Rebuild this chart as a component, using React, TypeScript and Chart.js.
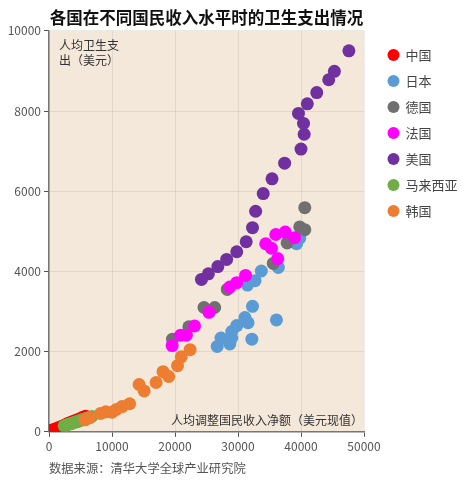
import React, { useEffect, useRef } from "react";
import { Chart, registerables } from "chart.js";

Chart.register(...registerables);

const FONT = '"Noto Sans CJK SC", "Noto Sans", sans-serif';
const PLOT_BG = "#f4e8da";

const seriesNames = ["中国", "日本", "德国", "法国", "美国", "马来西亚", "韩国"];
const seriesColors = ["#ff0000", "#5b9bd5", "#707070", "#ff00ff", "#7030a0", "#70ad47", "#ed7d31"];

const xTicks = [0, 10000, 20000, 30000, 40000, 50000];
const yTicks = [0, 2000, 4000, 6000, 8000, 10000];

const chinaX = [200, 400, 600, 800, 1000, 1300, 1500, 1800, 2100, 2500, 2900, 3300, 3800, 4300, 4800, 5300, 5800];
const chinaY = [20, 30, 45, 55, 70, 85, 100, 120, 140, 170, 200, 225, 260, 290, 320, 355, 390];

const japanX = [26700, 27300, 28700, 29000, 29000, 29800, 31100, 31600, 32200, 32300, 36100, 31500, 32700, 33700, 36400, 39300, 39800];
const japanY = [2130, 2340, 2190, 2500, 2340, 2650, 2850, 2720, 2310, 3130, 2790, 3660, 3770, 4010, 4100, 4690, 4830];

const germanyX = [19600, 22200, 24600, 26300, 28300, 35600, 37800, 39800, 40600, 40600];
const germanyY = [2310, 2620, 3100, 3100, 3550, 4200, 4710, 5110, 5040, 5590];

const franceX = [19550, 20900, 21800, 23100, 25400, 28700, 29800, 31200, 34400, 35300, 36000, 37500, 39000, 36300];
const franceY = [2150, 2410, 2410, 2640, 2980, 3610, 3720, 3900, 4690, 4580, 4920, 4980, 4840, 4320];

const usX = [24200, 25300, 26800, 28200, 29800, 31300, 32300, 32800, 34000, 35400, 37400, 40000, 40500, 40400, 39600, 41000, 42500, 44400, 45300, 47600];
const usY = [3800, 3940, 4120, 4300, 4490, 4740, 5090, 5500, 5940, 6310, 6700, 7050, 7420, 7690, 7940, 8180, 8460, 8780, 8990, 9500];

const malaysiaX = [2400, 2800, 3100, 3400, 3700, 4000, 4300, 4600, 4900, 5200, 5600, 6000, 6400, 6800];
const malaysiaY = [150, 170, 190, 200, 215, 235, 250, 260, 280, 300, 320, 340, 360, 385];

const koreaX = [5700, 6400, 8200, 9000, 10000, 10700, 11600, 12800, 14300, 15100, 17000, 18100, 19000, 20400, 21000, 22400];
const koreaY = [300, 350, 460, 500, 490, 560, 630, 700, 1180, 1020, 1230, 1500, 1380, 1650, 1870, 2050];

const titleText = "各国在不同国民收入水平时的卫生支出情况";
const yTitleLines = ["人均卫生支", "出（美元）"];
const xTitleText = "人均调整国民收入净额（美元现值）";
const sourceText = "数据来源：清华大学全球产业研究院";

export default function App() {
  const ref = useRef<HTMLCanvasElement>(null);

  useEffect(() => {
    if (!ref.current) return;
    const xs = [chinaX, japanX, germanyX, franceX, usX, malaysiaX, koreaX];
    const ys = [chinaY, japanY, germanyY, franceY, usY, malaysiaY, koreaY];
    const datasets = seriesNames.map((name, i) => ({
      label: name,
      data: xs[i].map((x, j) => ({ x, y: ys[i][j] })),
      backgroundColor: seriesColors[i],
      borderColor: seriesColors[i],
      borderWidth: 0,
      pointRadius: 6.5,
      pointHoverRadius: 6.5,
      order: seriesNames.length - i,
    }));

    const innerText = {
      id: "innerText",
      beforeDraw(chart: any) {
        const { ctx, chartArea: a } = chart;
        ctx.save();
        ctx.fillStyle = PLOT_BG;
        ctx.fillRect(a.left, a.top, a.right - a.left, a.bottom - a.top);
        ctx.restore();
      },
      afterDraw(chart: any) {
        const { ctx, chartArea: a } = chart;
        ctx.save();
        ctx.fillStyle = "#333";
        ctx.font = `12px ${FONT}`;
        ctx.textBaseline = "middle";
        ctx.textAlign = "left";
        yTitleLines.forEach((t, i) => ctx.fillText(t, a.left + 10, a.top + 15 + i * 14.5));
        ctx.textAlign = "right";
        ctx.fillText(xTitleText, a.right - 1, a.bottom - 11.5);
        ctx.restore();
      },
    };

    const chart = new Chart(ref.current, {
      type: "scatter",
      data: { datasets },
      plugins: [innerText],
      options: {
        animation: false,
        responsive: true,
        maintainAspectRatio: false,
        layout: { padding: 0 },
        plugins: {
          title: {
            display: true,
            text: titleText,
            fullSize: false,
            color: "#111",
            font: { family: FONT, size: 16.5, weight: "bold" },
            padding: { top: 0, bottom: 3 },
          },
          subtitle: {
            display: true,
            text: sourceText,
            position: "bottom",
            align: "start",
            fullSize: false,
            color: "#555",
            font: { family: FONT, size: 12.3 },
            padding: { top: 6, bottom: 0 },
          },
          legend: {
            position: "right",
            align: "start",
            maxWidth: 86,
            title: {
              display: true,
              text: " ",
              font: { family: FONT, size: 13 },
              padding: { top: 12, bottom: 0 },
            },
            labels: {
              usePointStyle: true,
              pointStyle: "circle",
              boxWidth: 11,
              boxHeight: 8.5,
              padding: 13,
              color: "#444",
              font: { family: FONT, size: 13 },
              sort: (a: any, b: any) => a.datasetIndex - b.datasetIndex,
            },
          },
          tooltip: { enabled: false },
        },
        scales: {
          x: {
            type: "linear",
            min: 0,
            max: 50000,
            afterBuildTicks: (s: any) => { s.ticks = xTicks.map((v) => ({ value: v })); },
            ticks: {
              color: "#555",
              font: { family: FONT, size: 12 },
              padding: 2,
              maxRotation: 0,
              callback: (v: any) => String(v),
            },
            grid: { color: "rgba(0,0,0,0.07)", tickColor: "#555", tickLength: 5 },
            border: { color: "#777", width: 1.5 },
          },
          y: {
            type: "linear",
            min: 0,
            max: 10000,
            afterBuildTicks: (s: any) => { s.ticks = yTicks.map((v) => ({ value: v })); },
            afterFit: (s: any) => { s.width = 41; },
            ticks: {
              color: "#555",
              font: { family: FONT, size: 12 },
              padding: 3,
              callback: (v: any) => String(v),
            },
            grid: { color: "rgba(0,0,0,0.07)", tickColor: "#555", tickLength: 5 },
            border: { color: "#777", width: 1.5 },
          },
          gap: {
            type: "linear",
            position: "right",
            display: true,
            min: 0,
            max: 1,
            afterFit: (s: any) => { s.width = 11; },
            ticks: { display: false },
            grid: { display: false, drawTicks: false },
            border: { display: false },
          },
        },
      },
    } as any);
    return () => chart.destroy();
  }, []);

  return (
    <div style={{ width: 453, height: 468, position: "relative" }}>
      <canvas ref={ref} />
    </div>
  );
}
